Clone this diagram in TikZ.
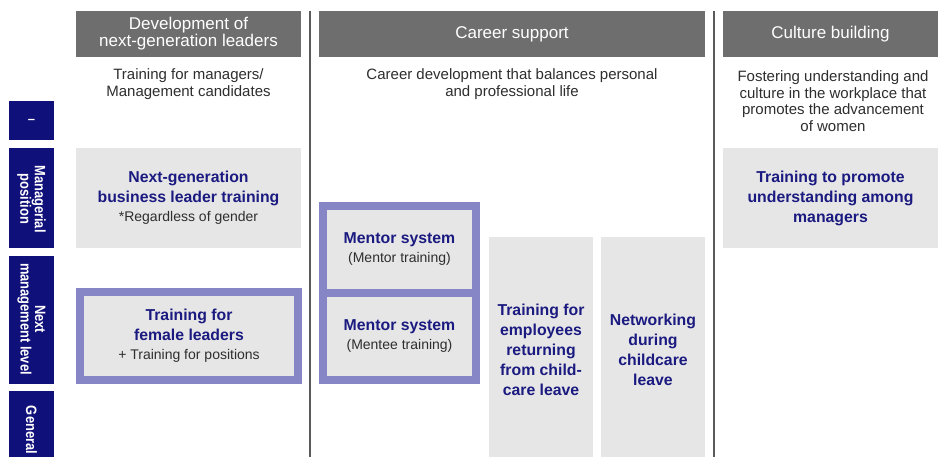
\documentclass[tikz,border=0pt]{standalone}
\usepackage{fontspec}
\setmainfont{Liberation Sans}
\usepackage{graphicx}
\definecolor{navyfill}{HTML}{10107A}
\definecolor{navytext}{HTML}{1A1A80}
\definecolor{purp}{HTML}{8686C6}
\definecolor{boxgray}{HTML}{E6E6E6}
\definecolor{hdrgray}{HTML}{6E6E6E}
\definecolor{subtext}{HTML}{2E2E2E}
\definecolor{sepgray}{HTML}{5A5A5A}
\newcommand{\cond}[1]{\scalebox{0.86}[1]{#1}}
\begin{document}
\begin{tikzpicture}[x=1pt,y=-1pt,
  every node/.style={inner sep=0pt, outer sep=0pt},
  lab/.style={fill=navyfill, minimum width=45pt},
  labtxt/.style={text=white, rotate=-90, align=center, font=\fontsize{15}{14.5}\selectfont\bfseries},
  hdr/.style={fill=hdrgray, text=white, minimum height=46pt, align=center, font=\fontsize{17}{17}\selectfont},
  sub/.style={text=subtext, align=center, font=\fontsize{15}{16.5}\selectfont},
  gbox/.style={fill=boxgray, text=navytext, align=center, font=\fontsize{15.8}{20}\selectfont\bfseries},
  frame/.style={fill=purp},
  sep/.style={draw=sepgray, line width=1.3pt}
]
\newcommand{\smalltxt}[1]{{\fontsize{14}{16}\selectfont\mdseries\color{subtext}#1}}
\clip (0,0) rectangle (938,457);
\fill[white] (0,0) rectangle (938,457);

% left labels
\node[lab, minimum height=39pt] (l1) at (31.5,120.5) {};
\node[text=white, font=\fontsize{13}{13}\selectfont\bfseries] (l1t) at (31.5,121) {–};
\node[lab, minimum height=100pt] (l2) at (31.5,198) {};
\node[labtxt] (l2t) at (31.5,199) {\cond{Managerial}\\\cond{position}};
\node[lab, minimum height=128pt] (l3) at (31.5,320) {};
\node[labtxt] (l3t) at (31.5,319) {\cond{Next}\\\cond{management level}};
\node[lab, minimum height=80pt] (l4) at (31.5,431) {};
\node[labtxt] (l4t) at (31.5,430) {\cond{General}};

% headers
\node[hdr, minimum width=225pt] (h1) at (188.5,34) {Development of\\next-generation leaders};
\node[hdr, minimum width=386pt] (h2) at (512,34) {Career support};
\node[hdr, minimum width=215pt] (h3) at (830.5,34) {Culture building};

% separators
\coordinate (s1a) at (310,11); \coordinate (s1b) at (310,460);
\coordinate (s2a) at (714,11); \coordinate (s2b) at (714,460);
\draw[sep] (s1a) -- (s1b);
\draw[sep] (s2a) -- (s2b);

% subtitles
\node[sub] (t1) at (188.5,84) {Training for managers/\\Management candidates};
\node[sub] (t2) at (512,84) {Career development that balances personal\\and professional life};
\node[sub] (t3) at (833,101) {Fostering understanding and\\culture in the workplace that\\promotes the advancement\\of women};

% development column
\node[gbox, minimum width=225pt, minimum height=100pt] (ng) at (188.5,198)
  {Next-generation\\business leader training\\[-1pt]\smalltxt{*Regardless of gender}};
\node[frame, minimum width=226pt, minimum height=96pt] (flf) at (189,336) {};
\node[gbox, minimum width=210pt, minimum height=80pt] (fl) at (189,336)
  {Training for\\female leaders\\[-1pt]\smalltxt{+ Training for positions}};

% career support column
\node[frame, minimum width=161pt, minimum height=182pt] (mf) at (399.5,293) {};
\node[gbox, minimum width=145pt, minimum height=79pt] (m1) at (399.5,249.5)
  {Mentor system\\[-1pt]\smalltxt{(Mentor training)}};
\node[gbox, minimum width=145pt, minimum height=79pt] (m2) at (399.5,336.5)
  {Mentor system\\[-1pt]\smalltxt{(Mentee training)}};
\node[gbox, minimum width=104pt, minimum height=226pt] (ret) at (541,350)
  {Training for\\employees\\returning\\from child-\\care leave};
\node[gbox, minimum width=104pt, minimum height=226pt] (net) at (653,350)
  {Networking\\during\\childcare\\leave};

% culture column
\node[gbox, minimum width=215pt, minimum height=100pt] (cul) at (830.5,198)
  {Training to promote\\understanding among\\managers};
\end{tikzpicture}
\end{document}
